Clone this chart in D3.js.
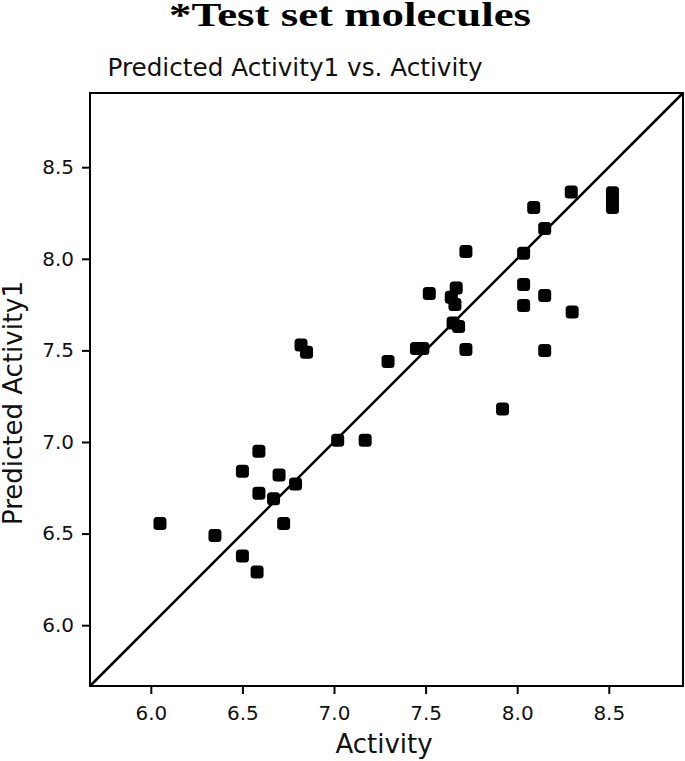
<!DOCTYPE html>
<html><head><meta charset="utf-8">
<script src="https://cdn.jsdelivr.net/npm/d3@7"></script>
<style>body{margin:0;background:#fff}svg{display:block}</style>
</head><body>
<script>
const activity = [6.05,6.35,6.50,6.50,6.58,6.59,6.59,6.67,6.70,6.725,6.79,6.82,6.85,7.02,7.17,7.295,7.45,7.485,7.52,7.64,7.65,7.66,7.667,7.68,7.72,7.72,7.92,8.035,8.035,8.035,8.09,8.15,8.15,8.15,8.295,8.30,8.52,8.52,8.52];
const predicted = [6.555,6.49,6.84,6.377,6.29,6.95,6.72,6.69,6.82,6.555,6.77,7.53,7.49,7.01,7.01,7.44,7.51,7.51,7.81,7.79,7.65,7.75,7.84,7.63,8.04,7.505,7.18,8.03,7.86,7.745,8.28,8.165,7.80,7.50,8.364,7.71,8.36,8.32,8.28];
const xTicks = [6.0,6.5,7.0,7.5,8.0,8.5];
const yTicks = [6.0,6.5,7.0,7.5,8.0,8.5];
const domain = [5.668,8.905];

const W=685,H=761;
const m={l:90,t:93,r:683,b:686};
const svg=d3.select("body").append("svg").attr("width",W).attr("height",H);
const x=d3.scaleLinear().domain(domain).range([m.l,m.r]);
const y=d3.scaleLinear().domain(domain).range([m.b,m.t]);

svg.append("text").attr("x",350).attr("y",26).attr("text-anchor","middle")
  .attr("font-family","Liberation Serif").attr("font-weight","bold").attr("font-size",34)
  .attr("textLength",362).attr("lengthAdjust","spacingAndGlyphs")
  .text("*Test set molecules");
svg.append("text").attr("x",295).attr("y",76).attr("text-anchor","middle")
  .attr("font-family","DejaVu Sans").attr("font-size",24.7).attr("fill","#111")
  .text("Predicted Activity1 vs. Activity");

const xa=svg.append("g").attr("transform",`translate(0,${m.b})`)
  .call(d3.axisBottom(x).tickValues(xTicks).tickFormat(d3.format(".1f")).tickSize(8).tickPadding(12));
const ya=svg.append("g").attr("transform",`translate(${m.l},0)`)
  .call(d3.axisLeft(y).tickValues(yTicks).tickFormat(d3.format(".1f")).tickSize(8).tickPadding(8));
[xa,ya].forEach(a=>{a.select(".domain").remove();
  a.selectAll("line").attr("stroke","#000").attr("stroke-width",2);
  a.selectAll("text").attr("font-family","DejaVu Sans").attr("font-size",20).attr("fill","#111");});

svg.append("rect").attr("x",m.l).attr("y",m.t).attr("width",m.r-m.l).attr("height",m.b-m.t)
  .attr("fill","none").attr("stroke","#000").attr("stroke-width",2);

svg.append("line").attr("x1",x(domain[0])).attr("y1",y(domain[0])).attr("x2",x(domain[1])).attr("y2",y(domain[1]))
  .attr("stroke","#000").attr("stroke-width",2.5);

const s=13;
svg.append("g").selectAll("rect").data(activity.map((a,i)=>[a,predicted[i]])).join("rect")
  .attr("x",d=>x(d[0])-s/2).attr("y",d=>y(d[1])-s/2).attr("width",s).attr("height",s)
  .attr("rx",3.5).attr("fill","#000");

svg.append("text").attr("x",384).attr("y",753).attr("text-anchor","middle")
  .attr("font-family","DejaVu Sans").attr("font-size",26).attr("fill","#111").text("Activity");
svg.append("text").attr("transform","translate(22,403) rotate(-90)").attr("text-anchor","middle")
  .attr("font-family","DejaVu Sans").attr("font-size",26).attr("fill","#111").text("Predicted Activity1");
</script>
</body></html>
